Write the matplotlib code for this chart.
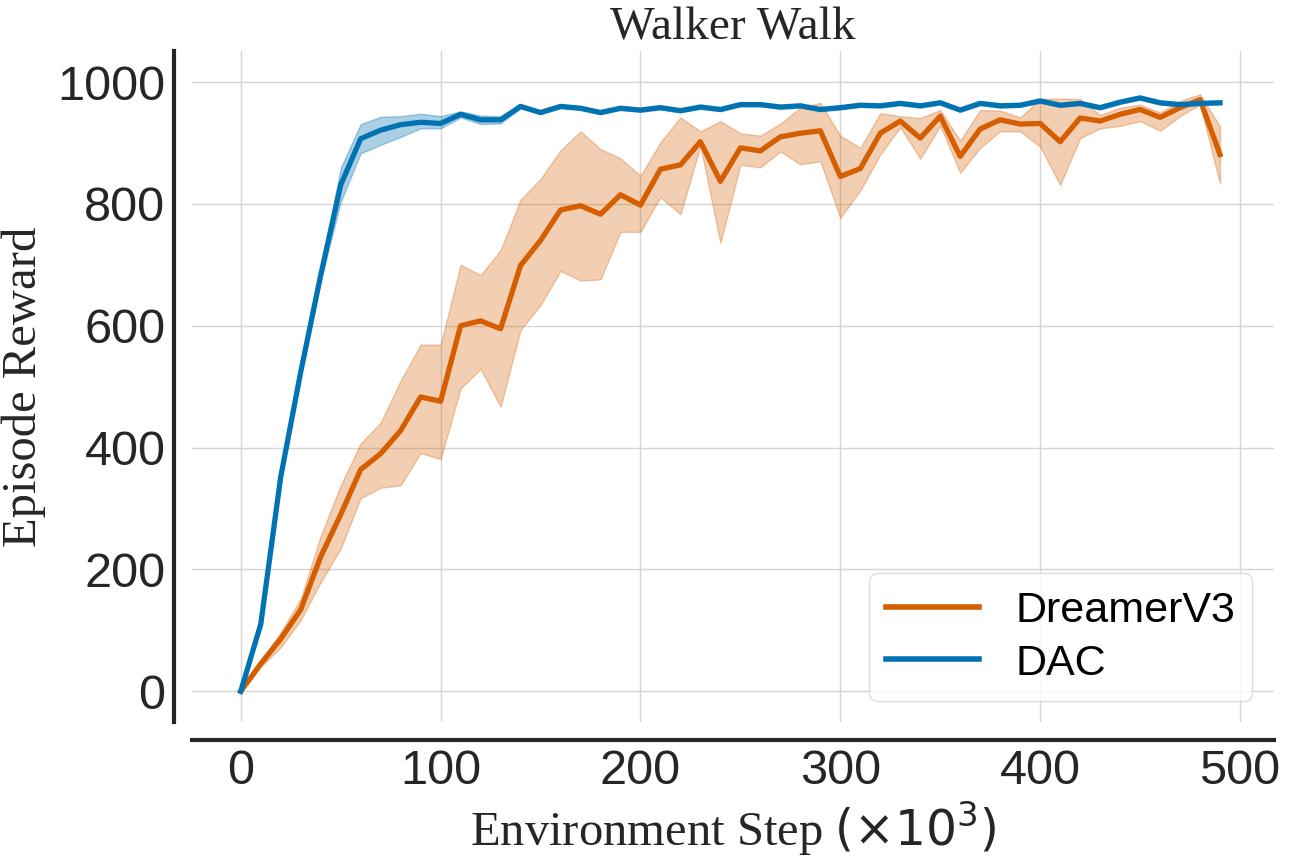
import matplotlib
matplotlib.use("Agg")
import matplotlib.pyplot as plt
import numpy as np

# environment step (x10^3)
steps = np.arange(0, 500, 10)

dreamer_mean = [0, 45, 86, 134, 221, 290, 364, 390, 428, 483,
                476, 600, 608, 595, 699, 740, 790, 797, 783, 815,
                798, 857, 864, 902, 837, 892, 887, 910, 916, 920,
                845, 858, 916, 936, 908, 944, 878, 923, 938, 931,
                932, 902, 941, 936, 947, 955, 942, 958, 971, 881]
dreamer_hi = [0, 50, 97, 152, 255, 338, 407, 441, 510, 569,
              569, 700, 683, 724, 807, 841, 888, 919, 890, 875,
              846, 901, 942, 919, 936, 916, 912, 932, 958, 966,
              912, 892, 949, 944, 941, 954, 904, 954, 953, 942,
              972, 973, 972, 946, 958, 963, 950, 969, 980, 927]
dreamer_lo = [0, 40, 72, 117, 179, 234, 317, 334, 338, 391,
              381, 497, 529, 467, 593, 634, 690, 674, 676, 754,
              754, 811, 783, 895, 736, 864, 860, 886, 865, 870,
              777, 822, 881, 926, 874, 928, 851, 892, 919, 919,
              894, 831, 908, 924, 928, 936, 920, 944, 963, 833]

dac_mean = [0, 110, 352, 524, 683, 831, 907, 921, 930, 934,
            932, 947, 938, 938, 960, 950, 960, 957, 950, 957,
            954, 958, 953, 959, 955, 963, 963, 959, 961, 955,
            958, 962, 961, 965, 961, 966, 954, 965, 961, 962,
            969, 962, 965, 958, 967, 974, 966, 963, 965, 966]
dac_hi = [0, 112, 356, 530, 692, 859, 931, 943, 944, 948,
          944, 952, 945, 944, 963, 953, 963, 960, 953, 960,
          957, 961, 956, 962, 958, 966, 966, 962, 964, 958,
          961, 965, 964, 968, 964, 969, 957, 968, 964, 965,
          972, 965, 968, 961, 970, 977, 969, 966, 968, 969]
dac_lo = [0, 108, 348, 518, 674, 803, 883, 897, 910, 924,
          924, 942, 931, 932, 957, 947, 957, 954, 947, 954,
          951, 955, 950, 956, 952, 960, 960, 956, 958, 952,
          955, 959, 958, 962, 958, 963, 951, 962, 958, 959,
          966, 959, 962, 955, 964, 971, 963, 960, 962, 963]

orange = "#D55E00"
blue = "#0173B2"
serif = ["Liberation Serif", "DejaVu Serif"]

plt.rcParams["font.family"] = ["Liberation Sans", "DejaVu Sans"]
plt.rcParams["mathtext.fontset"] = "dejavusans"

fig = plt.figure(figsize=(12.96, 8.64), dpi=100)
ax = fig.add_axes([0.148, 0.164, 0.835, 0.777])

ax.fill_between(steps, dreamer_lo, dreamer_hi, color=orange, alpha=0.3, linewidth=1)
ax.plot(steps, dreamer_mean, color=orange, lw=3.8, label="DreamerV3")
ax.fill_between(steps, dac_lo, dac_hi, color=blue, alpha=0.33, linewidth=1)
ax.plot(steps, dac_mean, color=blue, lw=3.8, label="DAC")

ax.set_xlim(-24.5, 517)
ax.set_ylim(-51, 1051)
ax.set_xticks([0, 100, 200, 300, 400, 500])
ax.set_yticks([0, 200, 400, 600, 800, 1000])

ax.grid(True, color="#d5d5d5", lw=1)
ax.set_axisbelow(True)
for s in ["top", "right"]:
    ax.spines[s].set_visible(False)
for s in ["left", "bottom"]:
    ax.spines[s].set_position(("outward", 13))
    ax.spines[s].set_linewidth(3)
    ax.spines[s].set_color("#262626")
ax.tick_params(length=0, labelsize=35, colors="#262626", pad=6)

ax.set_title("Walker Walk", family=serif, fontsize=34, color="#262626", pad=8)
ax.set_xlabel(r"Environment Step $(\times 10^3)$", family=serif, fontsize=35,
              color="#262626", labelpad=4)
ax.set_ylabel("Episode Reward", family=serif, fontsize=35, color="#262626", labelpad=8)

leg = ax.legend(loc="lower right", fontsize=31, frameon=True, handlelength=2.15,
                borderpad=0.4, labelspacing=0.3, handletextpad=0.85,
                borderaxespad=0.5)
leg.get_frame().set_edgecolor("#d5d5d5")
for line in leg.get_lines():
    line.set_linewidth(4)

fig.savefig("out.png", dpi=100)
